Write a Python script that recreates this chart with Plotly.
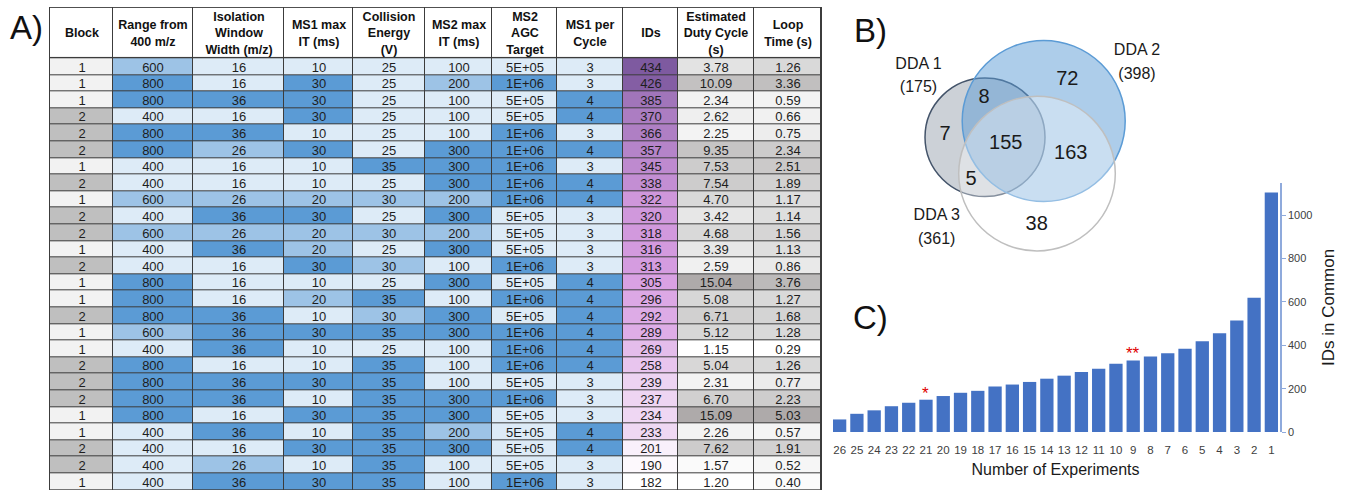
import plotly.graph_objects as go

# ---------------- Panel A: acquisition parameter screen ----------------
headers = ["Block", "Range from<br>400 m/z", "Isolation<br>Window<br>Width (m/z)", "MS1 max<br>IT (ms)",
           "Collision<br>Energy<br>(V)", "MS2 max<br>IT (ms)", "MS2<br>AGC<br>Target", "MS1 per<br>Cycle",
           "IDs", "Estimated<br>Duty Cycle<br>(s)", "Loop<br>Time (s)"]

block = [1, 1, 1, 2, 2, 2, 1, 2, 1, 2, 2, 1, 2, 1, 1, 2, 1, 1, 2, 2, 2, 1, 1, 2, 2, 1]
mz_range = [600, 800, 800, 400, 800, 800, 400, 400, 600, 400, 600, 400, 400, 800, 800, 800, 600, 400, 800, 800,
            800, 800, 400, 400, 400, 400]
iso_width = [16, 16, 36, 16, 36, 26, 16, 16, 26, 36, 26, 36, 16, 16, 16, 36, 36, 36, 16, 36, 36, 16, 36, 16, 26, 36]
ms1_it = [10, 30, 30, 30, 10, 30, 10, 10, 20, 30, 20, 20, 30, 10, 20, 10, 30, 10, 10, 30, 10, 30, 10, 30, 10, 30]
coll_energy = [25, 25, 25, 25, 25, 25, 35, 25, 30, 25, 30, 25, 30, 25, 35, 30, 35, 25, 35, 35, 35, 35, 35, 35,
               35, 35]
ms2_it = [100, 200, 100, 100, 100, 300, 300, 300, 200, 300, 200, 300, 100, 300, 100, 300, 300, 100, 100, 100,
          300, 300, 200, 300, 100, 100]
agc = [5e5, 1e6, 5e5, 5e5, 1e6, 1e6, 1e6, 1e6, 1e6, 5e5, 5e5, 5e5, 1e6, 5e5, 1e6, 5e5, 1e6, 1e6, 1e6, 5e5,
       1e6, 5e5, 5e5, 5e5, 5e5, 1e6]
ms1_per_cycle = [3, 3, 4, 4, 3, 4, 3, 4, 4, 3, 3, 3, 3, 4, 4, 4, 4, 4, 4, 3, 3, 3, 4, 4, 3, 3]
ids = [434, 426, 385, 370, 366, 357, 345, 338, 322, 320, 318, 316, 313, 305, 296, 292, 289, 269, 258, 239, 237,
       234, 233, 201, 190, 182]
duty_cycle = [3.78, 10.09, 2.34, 2.62, 2.25, 9.35, 7.53, 7.54, 4.70, 3.42, 4.68, 3.39, 2.59, 15.04, 5.08, 6.71,
              5.12, 1.15, 5.04, 2.31, 6.70, 15.09, 2.26, 7.62, 1.57, 1.20]
loop_time = [1.26, 3.36, 0.59, 0.66, 0.75, 2.34, 2.51, 1.89, 1.17, 1.14, 1.56, 1.13, 0.86, 3.76, 1.27, 1.68,
             1.28, 0.29, 1.26, 0.77, 2.23, 5.03, 0.57, 1.91, 0.52, 0.40]

# ---------------- Panel B: overlap of three DDA runs ----------------
venn_sets = ["DDA 1", "DDA 2", "DDA 3"]
venn_set_sizes = [175, 398, 361]
venn_regions = ["2 only", "1&2", "1 only", "1&2&3", "2&3", "1&3", "3 only"]
venn_region_counts = [72, 8, 7, 155, 163, 5, 38]

# ---------------- Panel C: IDs shared across experiments ----------------
n_experiments = [str(n) for n in range(26, 0, -1)]
ids_in_common = [58, 84, 100, 119, 135, 149, 166, 181, 190, 210, 219, 231, 246, 260, 277, 292, 315, 330, 348,
                 363, 384, 419, 456, 515, 619, 1105]
starred = {"21": "*", "9": "**"}

W, H = 1349, 496
FONT = "Liberation Sans, Arial, sans-serif"

# ---------------- table geometry (pixel units on a helper axis) ----------------
col_widths = [63, 80, 91, 69, 72, 67, 65, 66, 55, 76, 67]
TABLE_LEFT, TABLE_TOP, HEADER_H, ROW_H = 50, 8, 51, 16.8
x_edges = [TABLE_LEFT]
for w in col_widths:
    x_edges.append(x_edges[-1] + w)
row_edges = [TABLE_TOP + HEADER_H + i * ROW_H for i in range(len(ids) + 1)]

BLUE_LO, BLUE_MID, BLUE_HI = "#DDEBF7", "#9DC3E6", "#5B9BD5"
GRAY_LO, GRAY_MID, GRAY_HI = "rgb(255,255,255)", "rgb(217,217,217)", "rgb(174,170,170)"
PURPLE_LO, PURPLE_MID, PURPLE_HI = "rgb(255,255,255)", "rgb(216,158,226)", "rgb(126,90,160)"


def median(v):
    s = sorted(v)
    n = len(s)
    return (s[(n - 1) // 2] + s[n // 2]) / 2


def levels_scale(values):
    # blue shading by parameter level (low / mid / high)
    if len(set(values)) == 2:
        return [[0, BLUE_LO], [1, BLUE_HI]]
    return [[0, BLUE_LO], [0.5, BLUE_MID], [1, BLUE_HI]]


def median_scale(values, lo, mid, hi):
    # three-colour scale with the midpoint at the median value
    t = (median(values) - min(values)) / (max(values) - min(values))
    return [[0, lo], [t, mid], [1, hi]]


agc_text = ["%sE+%02d" % (f"{v:.0e}"[0], int(f"{v:.0e}".split("e")[1])) for v in agc]

columns = [
    (block, [str(v) for v in block], [[0, "#F2F2F2"], [1, "#BFBFBF"]]),
    (mz_range, [str(v) for v in mz_range], levels_scale(mz_range)),
    (iso_width, [str(v) for v in iso_width], levels_scale(iso_width)),
    (ms1_it, [str(v) for v in ms1_it], levels_scale(ms1_it)),
    (coll_energy, [str(v) for v in coll_energy], levels_scale(coll_energy)),
    (ms2_it, [str(v) for v in ms2_it], levels_scale(ms2_it)),
    (agc, agc_text, levels_scale(agc)),
    (ms1_per_cycle, [str(v) for v in ms1_per_cycle], levels_scale(ms1_per_cycle)),
    (ids, [str(v) for v in ids], median_scale(ids, PURPLE_LO, PURPLE_MID, PURPLE_HI)),
    (duty_cycle, ["%.2f" % v for v in duty_cycle], median_scale(duty_cycle, GRAY_LO, GRAY_MID, GRAY_HI)),
    (loop_time, ["%.2f" % v for v in loop_time], median_scale(loop_time, GRAY_LO, GRAY_MID, GRAY_HI)),
]

fig = go.Figure()

# dark backing that shows through the 1px cell gaps as grid lines
fig.add_shape(type="rect", xref="x3", yref="y3", x0=x_edges[0] - 1, x1=x_edges[-1] + 1,
              y0=TABLE_TOP - 1, y1=row_edges[-1] + 1, fillcolor="#3c3c3c", line=dict(width=0), layer="below")

# header row
fig.add_trace(go.Heatmap(
    x=x_edges, y=[TABLE_TOP, TABLE_TOP + HEADER_H], z=[[0] * len(headers)],
    colorscale=[[0, "white"], [1, "white"]], showscale=False, xgap=1, ygap=1,
    text=[["<b>%s</b>" % h for h in headers]], texttemplate="%{text}",
    textfont=dict(family=FONT, size=12.5, color="#111111"),
    xaxis="x3", yaxis="y3", hoverinfo="skip"))

# body columns, each shaded by its own colour scale
for i, (vals, labels, scale) in enumerate(columns):
    fig.add_trace(go.Heatmap(
        x=[x_edges[i], x_edges[i + 1]], y=row_edges, z=[[v] for v in vals],
        zmin=min(vals), zmax=max(vals), colorscale=scale, showscale=False, xgap=1, ygap=1,
        text=[[s] for s in labels], texttemplate="%{text}",
        textfont=dict(family=FONT, size=13, color="#1e1e1e"),
        xaxis="x3", yaxis="y3", hoverinfo="skip"))

# ---------------- Venn diagram on a pixel-scaled helper axis ----------------
venn_circles = [
    dict(cx=985, cy=139, r=60, fill="rgba(68,84,106,0.27)", line="#44546A"),
    dict(cx=1043.7, cy=122.5, r=81.5, fill="rgba(91,155,213,0.50)", line="#5B9BD5"),
    dict(cx=1037, cy=175.7, r=78.3, fill="rgba(255,255,255,0.35)", line="#BFBFBF"),
]
for c in venn_circles:
    fig.add_shape(type="circle", xref="x2", yref="y2",
                  x0=c["cx"] - c["r"], x1=c["cx"] + c["r"], y0=c["cy"] - c["r"], y1=c["cy"] + c["r"],
                  fillcolor=c["fill"], line=dict(color=c["line"], width=1.5), layer="below")

region_xy = [(1067.3, 81), (984, 99.3), (945, 136.7), (1005.7, 145.7), (1070.7, 156), (971, 182.7),
             (1036.7, 227.7)]
set_label_xy = [(918.5, 66, 89), (1137, 52, 76), (936.7, 218.5, 243)]

txt_x, txt_y, txt, txt_size = [], [], [], []
for (x, y), n in zip(region_xy, venn_region_counts):
    txt_x.append(x); txt_y.append(y); txt.append(str(n)); txt_size.append(20)
for (x, y1, y2), name, size in zip(set_label_xy, venn_sets, venn_set_sizes):
    txt_x += [x, x]; txt_y += [y1, y2]; txt += [name, "(%d)" % size]; txt_size += [16, 16]

fig.add_trace(go.Scatter(x=txt_x, y=txt_y, text=txt, mode="text", xaxis="x2", yaxis="y2",
                         textfont=dict(family=FONT, size=txt_size, color="#1a1a1a"),
                         hoverinfo="skip", showlegend=False))

# ---------------- bar chart ----------------
fig.add_trace(go.Bar(x=n_experiments, y=ids_in_common, marker=dict(color="#4472C4", line=dict(width=0)),
                     xaxis="x", yaxis="y", showlegend=False))

for cat, mark in starred.items():
    i = n_experiments.index(cat)
    fig.add_annotation(x=i, y=ids_in_common[i], xref="x", yref="y",
                       text=mark, showarrow=False, yanchor="bottom", yshift=-5,
                       font=dict(family=FONT, size=17, color="#E00000"))

# panel letters
for letter, px, py in [("A)", 27, 28), ("B)", 870, 31), ("C)", 870, 321)]:
    fig.add_annotation(x=px / W, y=1 - py / H, xref="paper", yref="paper", text=letter, showarrow=False,
                       xanchor="center", yanchor="middle", font=dict(family=FONT, size=33, color="#111111"))

fig.update_layout(
    width=W, height=H, margin=dict(l=0, r=0, t=0, b=0),
    paper_bgcolor="white", plot_bgcolor="rgba(0,0,0,0)", bargap=0.23, showlegend=False,
    xaxis=dict(domain=[831 / W, 1280 / W], type="category", showline=False, showgrid=False, ticks="",
               ticklabelstandoff=9,
               tickfont=dict(family=FONT, size=11.5, color="#404040"), anchor="y",
               title=dict(text="Number of Experiments", standoff=9,
                          font=dict(family=FONT, size=16, color="#1a1a1a"))),
    yaxis=dict(domain=[1 - 437.3 / H, 1 - 185 / H], range=[0, 1150], side="right", anchor="x",
               showgrid=False, zeroline=False, showline=True, linecolor="#8FAADC", linewidth=1.5,
               ticks="outside", ticklen=4, tickcolor="#8FAADC", tickvals=[0, 200, 400, 600, 800, 1000],
               tickfont=dict(family=FONT, size=11, color="#404040"),
               title=dict(text="IDs in Common", standoff=11, font=dict(family=FONT, size=17, color="#1a1a1a"))),
    xaxis2=dict(domain=[0.6, 1.0], range=[0.6 * W, W], visible=False, anchor="y2"),
    yaxis2=dict(domain=[0, 1], range=[H, 0], visible=False, anchor="x2"),
    xaxis3=dict(domain=[0, 0.62], range=[0, 0.62 * W], visible=False, anchor="y3", fixedrange=True),
    yaxis3=dict(domain=[0, 1], range=[H, 0], visible=False, anchor="x3", fixedrange=True),
)

fig.write_html("out.html")
